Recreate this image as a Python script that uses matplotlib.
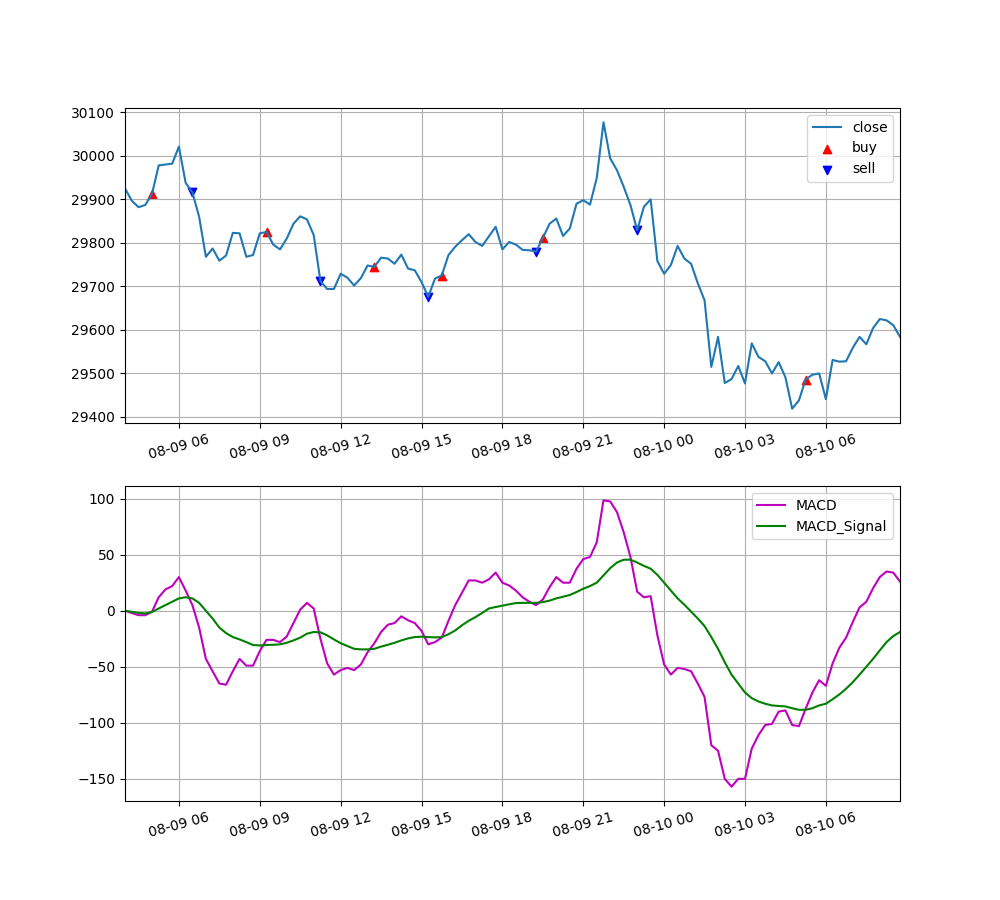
import matplotlib
matplotlib.use("Agg")
import matplotlib.pyplot as plt
import matplotlib.dates as mdates
import pandas as pd
import numpy as np

start_time = "2023-08-09 04:00"
freq = "15min"

close = [
    29925, 29897, 29882, 29887, 29912, 29978, 29980, 29982, 30021, 29938,
    29916, 29860, 29768, 29787, 29759, 29771, 29823, 29822, 29768, 29772,
    29822, 29825, 29796, 29785, 29810, 29844, 29861, 29854, 29818, 29712,
    29694, 29694, 29729, 29720, 29702, 29719, 29748, 29745, 29766, 29764,
    29752, 29773, 29741, 29737, 29710, 29676, 29718, 29725, 29772, 29791,
    29806, 29820, 29802, 29793, 29815, 29837, 29785, 29802, 29796, 29784,
    29783, 29780, 29811, 29844, 29856, 29816, 29833, 29890, 29898, 29888,
    29949, 30077, 29994, 29967, 29929, 29887, 29829, 29883, 29900, 29758,
    29729, 29749, 29793, 29764, 29752, 29707, 29668, 29515, 29584, 29478,
    29487, 29517, 29477, 29569, 29538, 29528, 29500, 29526, 29491, 29419,
    29438, 29486, 29497, 29500, 29441, 29531, 29527, 29528, 29559, 29584,
    29567, 29604, 29625, 29622, 29611, 29584,
]

macd = [
    0, -2, -4, -4, -1, 12, 19, 22, 30, 18,
    5, -15, -43, -54, -65, -66, -54, -43, -49, -49,
    -36, -26, -26, -28, -23, -11, 1, 7, 2, -25,
    -47, -57, -53, -51, -53, -48, -37, -29, -19, -12.5,
    -11, -5, -8.5, -11, -18, -30, -28, -24, -9, 5,
    16, 27, 27, 25, 28, 34, 25, 22.5, 18, 12,
    8, 5, 10, 21, 30, 25, 25, 37.5, 46, 48,
    61, 98.5, 97.5, 88, 70, 48, 17, 12, 13, -22,
    -48, -57, -51, -52, -54, -65, -77, -120, -125, -150,
    -157, -150, -150, -123, -111, -102, -101, -90, -89, -102,
    -103, -87.5, -73, -62, -67, -47, -33, -24, -10, 3,
    8, 20, 30, 35, 34, 26,
]

signal = [
    0, -1, -2, -2.4, -1.2, 2, 5, 8, 11, 12,
    11, 7, 0, -7, -15, -20, -23.5, -25.6, -28, -30.6,
    -31, -30.6, -30.4, -30, -28.6, -26.5, -24, -20.5, -19, -19.3,
    -22, -25.6, -29, -31.5, -34, -34.5, -34.5, -34, -32, -30.4,
    -28.6, -26.5, -24.7, -23.5, -23.2, -23.5, -23.8, -23.5, -21, -17.6,
    -13, -9, -5.7, -2, 2, 3.3, 4.5, 5.7, 6.8, 7,
    7, 7, 7.7, 9, 11, 12.5, 14, 16.7, 19.6, 22,
    25, 31.5, 38, 43, 45.5, 45.5, 43, 40, 37.5, 32,
    25, 18, 11, 5.4, -0.8, -7, -13.7, -23.5, -34, -46,
    -57, -65, -73, -78, -81, -83, -84.5, -85, -85.4, -87,
    -88.4, -88.4, -87, -84.5, -83, -79, -74.7, -69.6, -63.7, -57,
    -50, -43, -35.4, -28, -22.6, -19,
]

buy_idx = [4, 21, 37, 47, 62, 101]
sell_idx = [10, 29, 45, 61, 76]

times = pd.date_range(start=start_time, periods=len(close), freq=freq)
close_s = pd.Series(close, index=times)

fig, (ax1, ax2) = plt.subplots(2, 1, figsize=(10, 9), dpi=100)

ax1.plot(times, close, label="close")
ax1.scatter(times[buy_idx], close_s.iloc[buy_idx], marker="^", color="r", label="buy")
ax1.scatter(times[sell_idx], close_s.iloc[sell_idx], marker="v", color="b", label="sell")
ax1.legend(loc="upper right")
ax1.grid(True)

ax2.plot(times, macd, color="m", label="MACD")
ax2.plot(times, signal, color="g", label="MACD_Signal")
ax2.legend(loc="upper right")
ax2.grid(True)

for ax in (ax1, ax2):
    ax.set_xlim(times[0], times[-1])
    ax.xaxis.set_major_locator(mdates.HourLocator(byhour=range(0, 24, 3)))
    ax.xaxis.set_major_formatter(mdates.DateFormatter("%m-%d %H"))
    for lbl in ax.get_xticklabels():
        lbl.set_rotation(15)

fig.savefig("out.png", dpi=100)
